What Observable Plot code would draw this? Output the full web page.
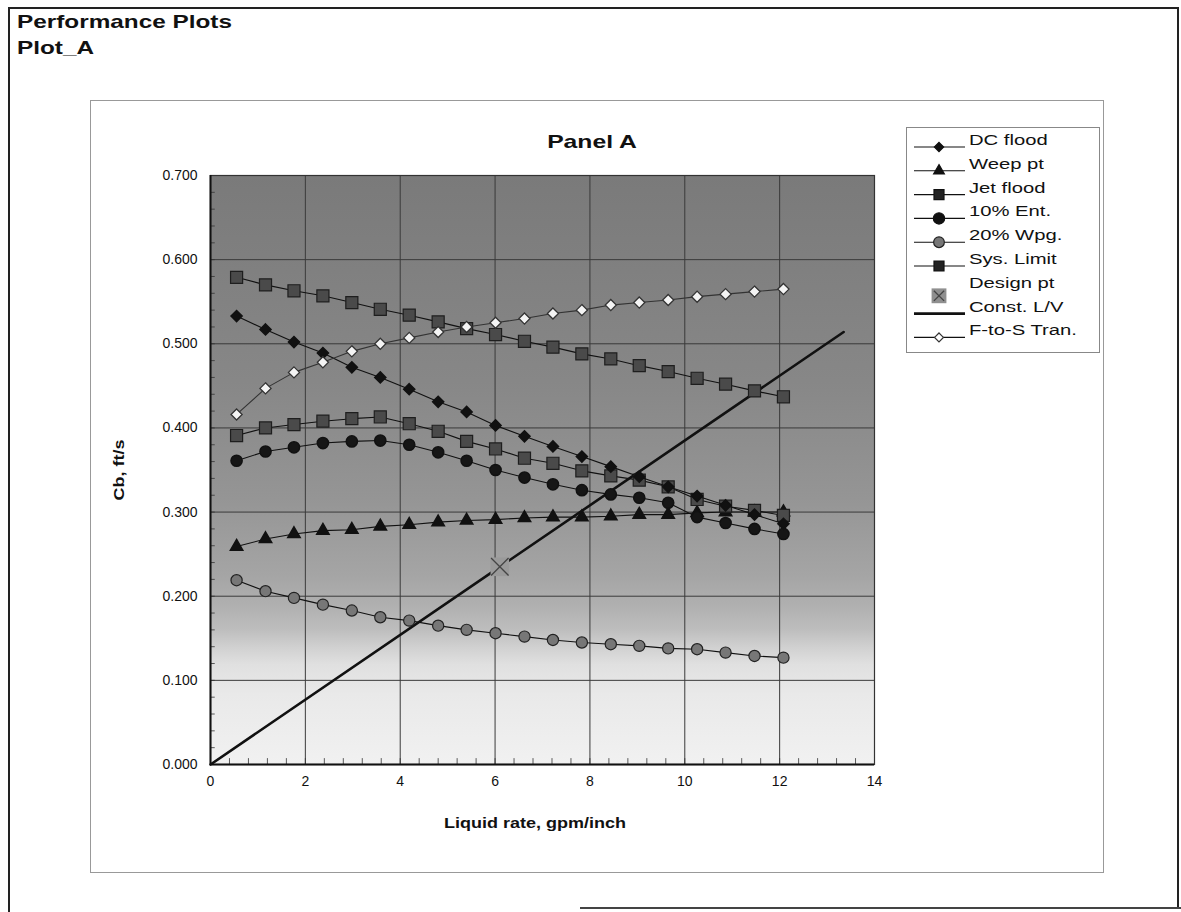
<!DOCTYPE html>
<html>
<head>
<meta charset="utf-8">
<script src="https://cdn.jsdelivr.net/npm/d3@7"></script>
<script src="https://cdn.jsdelivr.net/npm/@observablehq/plot@0.6"></script>
<style>
  body { margin:0; background:#fff; font-family:"Liberation Sans", Arial, sans-serif; }
  #page { position:relative; width:1181px; height:912px; overflow:hidden; }
  #chart { position:absolute; left:0; top:0; }
  .abs { position:absolute; }
  .ttl { font-weight:bold; font-size:19px; color:#111; transform:scaleX(1.28); transform-origin:left center; white-space:nowrap; }
</style>
</head>
<body>
<div id="page">
  <div class="abs" style="left:9px;top:7px;width:1169px;height:0;border-top:2px solid #222;"></div>
  <div class="abs" style="left:8px;top:7px;width:0;height:905px;border-left:2px solid #222;"></div>
  <div class="abs" style="left:1177px;top:7px;width:0;height:900px;border-left:2px solid #222;"></div>
  <div class="abs" style="left:580px;top:907px;width:601px;height:0;border-top:2px solid #444;"></div>
  <div class="abs ttl" style="left:17px;top:11px;">Performance Plots</div>
  <div class="abs ttl" style="left:17px;top:37px;">Plot_A</div>
  <div class="abs" style="left:90px;top:100px;width:1012px;height:771px;border:1px solid #999;"></div>
  <div id="chart"></div>
  <div class="abs" style="left:592px;top:131px;transform:translateX(-50%) scaleX(1.3);font-weight:bold;font-size:19px;color:#111;white-space:nowrap;">Panel A</div>
  <div class="abs" style="left:535px;top:814px;transform:translateX(-50%) scaleX(1.2);font-weight:bold;font-size:15px;color:#111;white-space:nowrap;">Liquid rate, gpm/inch</div>
  <div class="abs" style="left:118px;top:470px;transform:translate(-50%,-50%) rotate(-90deg) scaleX(1.2);font-weight:bold;font-size:15px;color:#111;white-space:nowrap;">Cb, ft/s</div>
  <div id="legend" class="abs" style="left:906px;top:127px;width:192px;height:224px;border:1px solid #888;background:#fff;"></div>
</div>
<script>
// ---------- data ----------
const liquidRate = [0.55, 1.16, 1.76, 2.37, 2.98, 3.58, 4.19, 4.80, 5.40, 6.01, 6.62, 7.22, 7.83, 8.44, 9.04, 9.65, 10.26, 10.86, 11.47, 12.08];
const dcFlood   = [0.533,0.517,0.502,0.489,0.472,0.460,0.446,0.431,0.419,0.403,0.390,0.378,0.366,0.354,0.342,0.330,0.319,0.308,0.297,0.286];
const weepPt    = [0.259,0.268,0.274,0.278,0.279,0.283,0.285,0.288,0.290,0.291,0.293,0.294,0.294,0.295,0.297,0.297,0.299,0.300,0.300,0.300];
const jetFlood  = [0.579,0.570,0.563,0.557,0.549,0.541,0.534,0.526,0.518,0.511,0.503,0.496,0.488,0.482,0.474,0.467,0.459,0.452,0.444,0.437];
const ent10     = [0.361,0.372,0.377,0.382,0.384,0.385,0.380,0.371,0.361,0.350,0.341,0.333,0.326,0.321,0.317,0.311,0.294,0.287,0.280,0.274];
const wpg20     = [0.219,0.206,0.198,0.190,0.183,0.175,0.171,0.165,0.160,0.156,0.152,0.148,0.145,0.143,0.141,0.138,0.137,0.133,0.129,0.127];
const sysLimit  = [0.391,0.400,0.404,0.408,0.411,0.413,0.405,0.396,0.384,0.375,0.364,0.358,0.349,0.343,0.338,0.330,0.315,0.307,0.302,0.296];
const fToSTran  = [0.416,0.447,0.466,0.478,0.491,0.500,0.507,0.514,0.520,0.525,0.530,0.536,0.540,0.546,0.549,0.552,0.556,0.559,0.562,0.565];
const designPtX = [6.1];
const designPtY = [0.235];
const constLVx  = [0, 13.35];
const constLVy  = [0, 0.514];
const xTicks = [0, 2, 4, 6, 8, 10, 12, 14];
const yTicks = [0, 0.1, 0.2, 0.3, 0.4, 0.5, 0.6, 0.7];
const xMinor = d3.range(0, 14.001, 0.4);
const yMinor = d3.range(0, 0.7001, 0.02);

const seriesNames = ["DC flood","Weep pt","Jet flood","10% Ent.","20% Wpg.","Sys. Limit","Design pt","Const. L/V","F-to-S Tran."];

const toRows = (ys) => liquidRate.map((x, i) => ({x, y: ys[i]}));
const design = designPtX.map((x, i) => ({x, y: designPtY[i]}));
const lv = constLVx.map((x, i) => ({x, y: constLVy[i]}));

const lineOpts = {x: "x", y: "y", stroke: "#111", strokeWidth: 1.1};

const plot = Plot.plot({
  width: 1181,
  height: 912,
  marginLeft: 210,
  marginRight: 307,
  marginTop: 175,
  marginBottom: 148,
  style: {fontFamily: "Liberation Sans, Arial, sans-serif", fontSize: "14px", color: "#111", background: "transparent"},
  x: {domain: [0, 14], ticks: xTicks, tickSize: 0, tickPadding: 12, label: null},
  y: {domain: [0, 0.7], ticks: yTicks, tickSize: 0, tickPadding: 13, tickFormat: d3.format(".3f"), label: null},
  marks: [
    Plot.frame({fill: "url(#bgGrad)", stroke: "none"}),
    Plot.ruleX(xTicks.slice(1, -1), {stroke: "#3a3a3a", strokeWidth: 1}),
    Plot.ruleY(yTicks.slice(1, -1), {stroke: "#3a3a3a", strokeWidth: 1}),
    Plot.frame({stroke: "#333", strokeWidth: 1.2}),
    Plot.ruleY(yMinor, {y: d => d, x1: 0, x2: 0.1, stroke: "#333", strokeWidth: 0.8}),
    Plot.ruleX(xMinor, {x: d => d, y1: 0, y2: 0.007, stroke: "#333", strokeWidth: 0.8}),
    Plot.ruleX([0], {stroke: "#111", strokeWidth: 2}),
    Plot.ruleY([0], {stroke: "#111", strokeWidth: 2}),
    // Const L/V
    Plot.line(lv, {x: "x", y: "y", stroke: "#111", strokeWidth: 2.6}),
    // 20% Wpg.
    Plot.line(toRows(wpg20), lineOpts),
    Plot.dot(toRows(wpg20), {x: "x", y: "y", r: 5.6, fill: "#777", stroke: "#222", strokeWidth: 1.2}),
    // Weep pt
    Plot.line(toRows(weepPt), lineOpts),
    Plot.dot(toRows(weepPt), {x: "x", y: "y", symbol: "triangle", r: 4.6, fill: "#111", stroke: "#111"}),
    // 10% Ent.
    Plot.line(toRows(ent10), lineOpts),
    Plot.dot(toRows(ent10), {x: "x", y: "y", r: 5.6, fill: "#161616", stroke: "#111"}),
    // Sys. Limit
    Plot.line(toRows(sysLimit), lineOpts),
    Plot.dot(toRows(sysLimit), {x: "x", y: "y", symbol: "square", r: 6.8, fill: "#4a4a4a", stroke: "#1e1e1e", strokeWidth: 1.2}),
    // DC flood
    Plot.line(toRows(dcFlood), lineOpts),
    Plot.dot(toRows(dcFlood), {x: "x", y: "y", symbol: "diamond2", r: 5, fill: "#111", stroke: "#111"}),
    // Jet flood
    Plot.line(toRows(jetFlood), lineOpts),
    Plot.dot(toRows(jetFlood), {x: "x", y: "y", symbol: "square", r: 6.8, fill: "#4a4a4a", stroke: "#1e1e1e", strokeWidth: 1.2}),
    // F-to-S Tran.
    Plot.line(toRows(fToSTran), {x: "x", y: "y", stroke: "#333", strokeWidth: 1.1}),
    Plot.dot(toRows(fToSTran), {x: "x", y: "y", symbol: "diamond2", r: 5, fill: "#f4f4f4", stroke: "#333", strokeWidth: 1.3}),
    // Design pt
    Plot.dot(design, {x: "x", y: "y", symbol: "square", r: 10.5, fill: "#9a9a9a", stroke: "none"}),
    Plot.dot(design, {x: "x", y: "y", symbol: "times", r: 8, stroke: "#444", strokeWidth: 1.3})
  ]
});

const svg = d3.select(plot);
const defs = svg.insert("defs", ":first-child");
const g = defs.append("linearGradient").attr("id", "bgGrad").attr("x1", 0).attr("y1", 0).attr("x2", 0).attr("y2", 1);
[[0, "#7a7a7a"], [0.35, "#878787"], [0.55, "#959595"], [0.68, "#a5a5a5"], [0.73, "#b0b0b0"], [0.77, "#bdbdbd"], [0.80, "#d0d0d0"], [0.83, "#e0e0e0"], [0.88, "#e9e9e9"], [1, "#f1f1f1"]]
  .forEach(([o, c]) => g.append("stop").attr("offset", o).attr("stop-color", c));
document.getElementById("chart").appendChild(plot);

// ---------- legend ----------
const legendStyles = {
  "DC flood":    {line: true, sym: d3.symbolDiamond2, size: 55, fill: "#111", stroke: "#111"},
  "Weep pt":     {line: true, sym: d3.symbolTriangle, size: 50, fill: "#111", stroke: "#111"},
  "Jet flood":   {line: true, sym: d3.symbolSquare, size: 100, fill: "#222", stroke: "#111"},
  "10% Ent.":    {line: true, sym: d3.symbolCircle, size: 100, fill: "#111", stroke: "#111"},
  "20% Wpg.":    {line: true, sym: d3.symbolCircle, size: 90, fill: "#777", stroke: "#222"},
  "Sys. Limit":  {line: true, sym: d3.symbolSquare, size: 100, fill: "#222", stroke: "#111"},
  "Design pt":   {line: false, sym: d3.symbolSquare, size: 220, fill: "#8f8f8f", stroke: "none", x: true},
  "Const. L/V":  {line: true, thick: true},
  "F-to-S Tran.":{line: true, sym: d3.symbolDiamond2, size: 50, fill: "#fff", stroke: "#333"}
};
const leg = d3.select("#legend").append("svg").attr("width", 192).attr("height", 224)
  .style("font-family", "Liberation Sans, Arial, sans-serif");
seriesNames.forEach((name, i) => {
  const st = legendStyles[name];
  const cy = 19 + i * 23.8;
  const row = leg.append("g").attr("transform", `translate(0,${cy})`);
  if (st.line) row.append("line").attr("x1", 7).attr("x2", 58).attr("y1", 0).attr("y2", 0)
    .attr("stroke", "#111").attr("stroke-width", st.thick ? 2.6 : 1.1);
  if (st.sym) row.append("path").attr("transform", `translate(32,${st.x ? 6 : 0})`)
    .attr("d", d3.symbol(st.sym, st.size)()).attr("fill", st.fill).attr("stroke", st.stroke).attr("stroke-width", 1.2);
  if (st.x) row.append("path").attr("transform", "translate(32,6)")
    .attr("d", d3.symbol(d3.symbolTimes, 70)()).attr("fill", "none").attr("stroke", "#444").attr("stroke-width", 1.3);
  row.append("text").attr("x", 62).attr("y", -2).attr("font-size", 15)
    .attr("transform", "translate(62,0) scale(1.35,1) translate(-62,0)")
    .attr("fill", "#111").text(name);
});
</script>
</body>
</html>
